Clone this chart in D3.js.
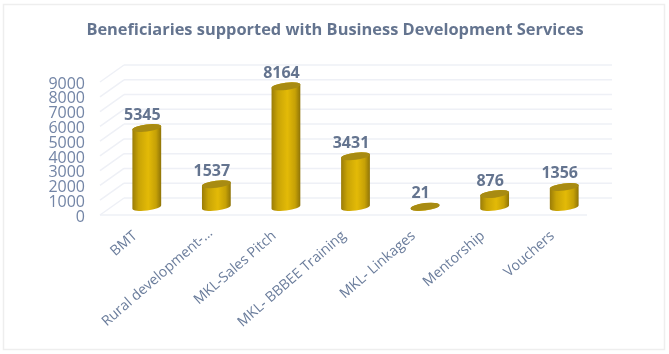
<!DOCTYPE html>
<html>
<head>
<meta charset="utf-8">
<script src="https://d3js.org/d3.v7.min.js"></script>
<style>
  html, body { margin: 0; padding: 0; background: #fff; }
  text { font-family: "Open Sans", sans-serif; }
  svg { filter: blur(0.4px); }
</style>
</head>
<body>
<div id="chart"></div>
<script>
var categories = ["BMT", "Rural development-…", "MKL-Sales Pitch", "MKL- BBBEE Training", "MKL- Linkages", "Mentorship", "Vouchers"];
var values = [5345, 1537, 8164, 3431, 21, 876, 1356];
var tickValues = [0, 1000, 2000, 3000, 4000, 5000, 6000, 7000, 8000, 9000];
var title = "Beneficiaries supported with Business Development Services";

var width = 669,
  height = 354;
var textColor = "#64748f";
var gridColor = "#eef0f6";

var rx = 14.5,
  ry = 3.6,
  tilt = -7;

var svg = d3.select("#chart")
  .append("svg")
  .attr("width", width)
  .attr("height", height)
  .style("display", "block");

var defs = svg.append("defs");
var grad = defs.append("linearGradient").attr("id", "body");
grad.append("stop").attr("offset", "0%").attr("stop-color", "#9a7c08");
grad.append("stop").attr("offset", "22%").attr("stop-color", "#c9a406");
grad.append("stop").attr("offset", "55%").attr("stop-color", "#e3ba07");
grad.append("stop").attr("offset", "82%").attr("stop-color", "#c6a106");
grad.append("stop").attr("offset", "100%").attr("stop-color", "#8f7408");

var x = d3.scaleBand().domain(categories).range([112, 599]);
var y = d3.scaleLinear().domain([0, 9000]).range([207, 74]);

// outer frame
svg.append("rect")
  .attr("x", 3.5).attr("y", 4.5)
  .attr("width", 661).attr("height", 345)
  .attr("fill", "#fff")
  .attr("stroke", "#eeeeee")
  .attr("stroke-width", 1.5);

svg.append("text")
  .attr("x", 335).attr("y", 35)
  .attr("text-anchor", "middle")
  .attr("font-size", 16.4)
  .attr("font-weight", 700)
  .attr("fill", textColor)
  .text(title);

// back wall grid + left wall diagonals
var grid = svg.append("g")
  .attr("fill", "none")
  .attr("stroke", gridColor)
  .attr("stroke-width", 1.5);

grid.selectAll(".back")
  .data(tickValues)
  .join("line")
  .attr("class", "back")
  .attr("x1", x.range()[0] + 12)
  .attr("x2", x.range()[1] + 13)
  .attr("y1", d => y(d) - 9)
  .attr("y2", d => y(d) - 9);

grid.selectAll(".side")
  .data(tickValues)
  .join("line")
  .attr("class", "side")
  .attr("x1", x.range()[0] - 12)
  .attr("x2", x.range()[0] + 12)
  .attr("y1", d => y(d) + 8)
  .attr("y2", d => y(d) - 9);

// floor
grid.append("line")
  .attr("x1", x.range()[0] - 12)
  .attr("x2", x.range()[1] - 12)
  .attr("y1", y(0) + 8)
  .attr("y2", y(0) + 8);

// y axis labels, only the text is visible
var axis = svg.append("g")
  .attr("transform", "translate(85,9)")
  .call(d3.axisLeft(y).tickValues(tickValues).tickSize(0).tickPadding(0).tickFormat(d3.format("d")));
axis.select(".domain").remove();
axis.selectAll("text")
  .attr("font-size", 16)
  .attr("fill", "#7385a6")
  .style("font-family", "'Open Sans', sans-serif");

// cylinders
var cosT = Math.cos(tilt * Math.PI / 180),
  sinT = Math.sin(tilt * Math.PI / 180);

function cylinderPath(d, i) {
  var cx = x(categories[i]) + x.bandwidth() / 2;
  var top = y(d), bottom = y(0);
  var dx = rx * cosT, dy = rx * sinT;
  var arc = "A" + rx + "," + ry + " " + tilt + " 0 0 ";
  return "M" + (cx - dx) + "," + (top - dy) +
    "L" + (cx - dx) + "," + (bottom - dy) +
    arc + (cx + dx) + "," + (bottom + dy) +
    "L" + (cx + dx) + "," + (top + dy) +
    arc + (cx - dx) + "," + (top - dy) + "Z";
}

var bars = svg.append("g");

bars.selectAll("path")
  .data(values)
  .join("path")
  .attr("d", cylinderPath)
  .attr("fill", "url(#body)");

bars.selectAll("ellipse")
  .data(values)
  .join("ellipse")
  .attr("rx", rx)
  .attr("ry", ry)
  .attr("fill", "#a88b12")
  .attr("transform", (d, i) => "translate(" + (x(categories[i]) + x.bandwidth() / 2) + "," + y(d) + ") rotate(" + tilt + ")");

svg.append("g")
  .selectAll("text")
  .data(values)
  .join("text")
  .attr("x", (d, i) => x(categories[i]) + x.bandwidth() / 2 - 4.5)
  .attr("y", d => y(d) - 8.5)
  .attr("text-anchor", "middle")
  .attr("font-size", 16)
  .attr("font-weight", 700)
  .attr("fill", textColor)
  .text(d => d);

// category labels, the cut off one sits a bit further along its line
svg.append("g")
  .selectAll("text")
  .data(categories)
  .join("text")
  .attr("text-anchor", "end")
  .attr("font-size", 14.2)
  .attr("fill", "#6b7d9c")
  .attr("transform", (d, i) => "translate(" + (x(d) + x.bandwidth() / 2 - (i == 1 ? 3 : 9)) + "," + (i == 1 ? 234 : 237) + ") rotate(-41)")
  .text(d => d);
</script>
</body>
</html>
